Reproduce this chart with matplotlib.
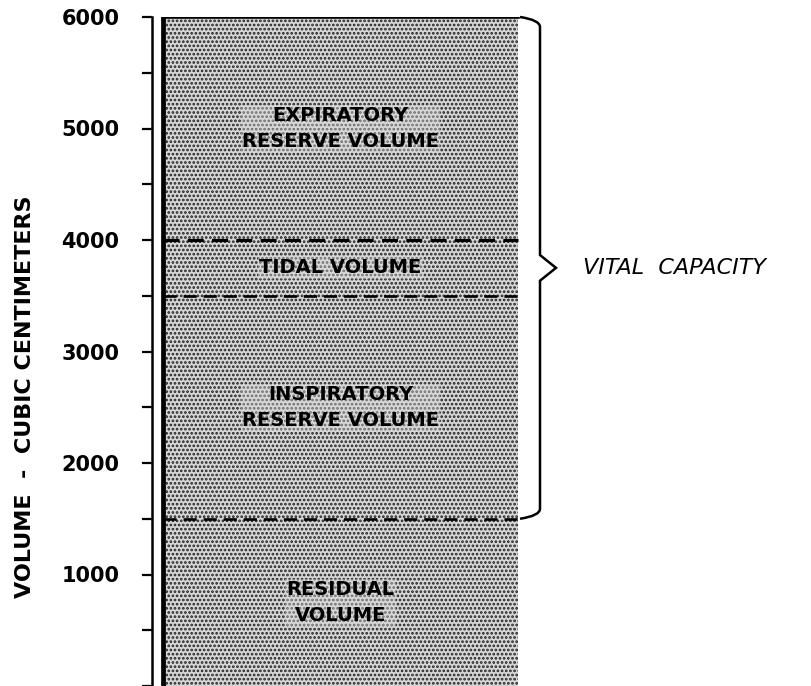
import matplotlib.pyplot as plt
from matplotlib.path import Path
from matplotlib.patches import PathPatch
import numpy as np

segment_names = ['RESIDUAL\nVOLUME', 'INSPIRATORY\nRESERVE VOLUME',
                 'TIDAL VOLUME', 'EXPIRATORY\nRESERVE VOLUME']
segment_sizes = [1500, 2000, 500, 2000]   # cubic centimeters
vital_capacity = (1500, 6000)
ytick_values = [0, 1000, 2000, 3000, 4000, 5000, 6000]
ytick_labels = ['', '1000', '2000', '3000', '4000', '5000', '6000']

fig = plt.figure(figsize=(8.12, 6.86), dpi=100)
ax = fig.add_axes([152 / 812, 0.0, 660 / 812, 669 / 686])

bar_x = (163 - 152) / 660
bar_w = (518 - 163) / 660
bottoms = np.concatenate([[0], np.cumsum(segment_sizes)[:-1]])

plt.rcParams['hatch.linewidth'] = 1.3
ax.bar([bar_x] * len(segment_sizes), segment_sizes, width=bar_w, bottom=bottoms,
       align='edge', color='#d6d6d6', edgecolor='#222222', hatch='....',
       linewidth=0)
# thick left edge and top of the column
ax.plot([bar_x, bar_x], [0, sum(segment_sizes)], color='black', lw=3.4,
        solid_capstyle='butt')
ax.plot([bar_x, bar_x + bar_w], [sum(segment_sizes)] * 2, color='black', lw=2.6)

# dashed boundaries between volumes
for i, b in enumerate(bottoms[1:]):
    ax.plot([bar_x, bar_x + bar_w], [b, b], color='black',
            lw=1.9 if i != 2 else 2.3, linestyle=(0, (5, 2.6)))

for name, b, h in zip(segment_names, bottoms, segment_sizes):
    ax.text(bar_x + bar_w / 2, b + h / 2, name, ha='center', va='center',
            fontsize=14, fontweight='bold', linespacing=1.45,
            bbox=dict(facecolor='#dcdcdc', edgecolor='none', alpha=0.4, pad=1))

# curly brace for vital capacity
lo, hi = vital_capacity
mid = (lo + hi) / 2
x0 = (520 - 152) / 660
x1 = (540 - 152) / 660
xt = (556 - 152) / 660
hook = 90
tip = 115
verts = [(x0, hi), (x1, hi - hook * 0.3), (x1, hi - hook),
         (x1, mid + tip), (xt, mid), (x1, mid - tip),
         (x1, lo + hook), (x1, lo + hook * 0.3), (x0, lo)]
codes = [Path.MOVETO, Path.CURVE3, Path.CURVE3,
         Path.LINETO, Path.LINETO, Path.LINETO,
         Path.LINETO, Path.CURVE3, Path.CURVE3]
ax.add_patch(PathPatch(Path(verts, codes), facecolor='none', edgecolor='black',
                       lw=1.8, clip_on=False))
ax.text((583 - 152) / 660, mid, 'VITAL  CAPACITY', ha='left', va='center',
        fontsize=16, fontstyle='italic')

ax.set_xlim(0, 1)
ax.set_ylim(0, 6000)
ax.set_yticks(ytick_values)
ax.set_yticklabels(ytick_labels, fontweight='bold')
ax.set_yticks(np.arange(500, 6000, 1000), minor=True)
ax.tick_params(axis='y', which='both', direction='out', length=7.5, width=1.6,
               pad=16, labelsize=15)
ax.set_xticks([])
for s in ['top', 'right', 'bottom']:
    ax.spines[s].set_visible(False)
ax.spines['left'].set_linewidth(1.8)

fig.text(25 / 812, 1 - 397 / 686, 'VOLUME  -  CUBIC CENTIMETERS', rotation=90,
         ha='center', va='center', fontsize=16, fontweight='bold')

plt.savefig('out.png')
